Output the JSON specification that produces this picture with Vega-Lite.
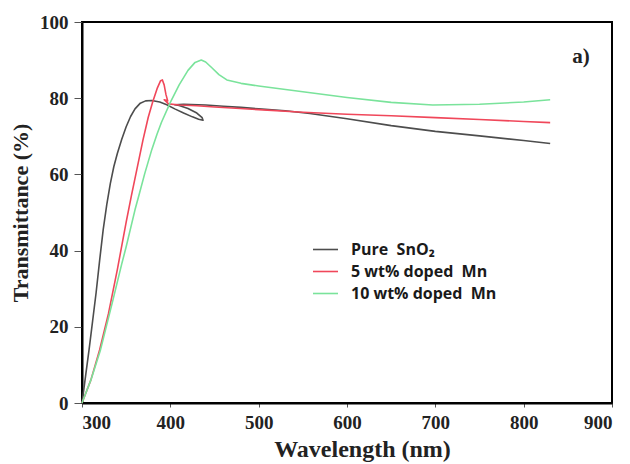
{
  "$schema": "https://vega.github.io/schema/vega-lite/v6.json",
  "width": 530,
  "height": 381,
  "autosize": "none",
  "padding": {"left": 82, "top": 22, "right": 18, "bottom": 61},
  "background": "white",
  "config": {
    "view": {"stroke": "black", "strokeWidth": 2},
    "axis": {
      "grid": false,
      "domainColor": "black",
      "domainWidth": 2,
      "tickColor": "#555",
      "labelFont": "Liberation Serif",
      "labelFontWeight": "bold",
      "labelFontSize": 19,
      "labelColor": "#222",
      "titleFont": "Liberation Serif",
      "titleFontWeight": "bold",
      "titleColor": "#222"
    }
  },
  "datasets": {
    "curves": [
      {"s": "Pure SnO₂", "i": 1, "w": 300, "t": 0},
      {"s": "Pure SnO₂", "i": 2, "w": 304, "t": 7},
      {"s": "Pure SnO₂", "i": 3, "w": 308, "t": 14},
      {"s": "Pure SnO₂", "i": 4, "w": 312, "t": 21.5},
      {"s": "Pure SnO₂", "i": 5, "w": 316, "t": 29},
      {"s": "Pure SnO₂", "i": 6, "w": 320, "t": 37.5},
      {"s": "Pure SnO₂", "i": 7, "w": 324, "t": 45.5},
      {"s": "Pure SnO₂", "i": 8, "w": 328, "t": 52},
      {"s": "Pure SnO₂", "i": 9, "w": 332, "t": 57.5},
      {"s": "Pure SnO₂", "i": 10, "w": 336, "t": 62},
      {"s": "Pure SnO₂", "i": 11, "w": 340, "t": 65.5},
      {"s": "Pure SnO₂", "i": 12, "w": 345, "t": 69.2},
      {"s": "Pure SnO₂", "i": 13, "w": 350, "t": 72.5},
      {"s": "Pure SnO₂", "i": 14, "w": 355, "t": 75.2},
      {"s": "Pure SnO₂", "i": 15, "w": 360, "t": 77.2},
      {"s": "Pure SnO₂", "i": 16, "w": 366, "t": 78.7},
      {"s": "Pure SnO₂", "i": 17, "w": 372, "t": 79.3},
      {"s": "Pure SnO₂", "i": 18, "w": 379, "t": 79.4},
      {"s": "Pure SnO₂", "i": 19, "w": 388, "t": 79},
      {"s": "Pure SnO₂", "i": 20, "w": 396, "t": 78.3},
      {"s": "Pure SnO₂", "i": 21, "w": 405, "t": 77.2},
      {"s": "Pure SnO₂", "i": 22, "w": 415, "t": 76.1},
      {"s": "Pure SnO₂", "i": 23, "w": 425, "t": 75.1},
      {"s": "Pure SnO₂", "i": 24, "w": 432, "t": 74.5},
      {"s": "Pure SnO₂", "i": 25, "w": 437, "t": 74.2},
      {"s": "Pure SnO₂", "i": 26, "w": 436, "t": 74.9},
      {"s": "Pure SnO₂", "i": 27, "w": 430, "t": 76.1},
      {"s": "Pure SnO₂", "i": 28, "w": 420, "t": 77.3},
      {"s": "Pure SnO₂", "i": 29, "w": 410, "t": 78.1},
      {"s": "Pure SnO₂", "i": 30, "w": 405, "t": 78.3},
      {"s": "Pure SnO₂", "i": 31, "w": 415, "t": 78.4},
      {"s": "Pure SnO₂", "i": 32, "w": 440, "t": 78.2},
      {"s": "Pure SnO₂", "i": 33, "w": 460, "t": 77.9},
      {"s": "Pure SnO₂", "i": 34, "w": 480, "t": 77.6},
      {"s": "Pure SnO₂", "i": 35, "w": 500, "t": 77.2},
      {"s": "Pure SnO₂", "i": 36, "w": 530, "t": 76.7},
      {"s": "Pure SnO₂", "i": 37, "w": 558, "t": 76},
      {"s": "Pure SnO₂", "i": 38, "w": 600, "t": 74.6},
      {"s": "Pure SnO₂", "i": 39, "w": 650, "t": 72.8},
      {"s": "Pure SnO₂", "i": 40, "w": 700, "t": 71.3},
      {"s": "Pure SnO₂", "i": 41, "w": 750, "t": 70.1},
      {"s": "Pure SnO₂", "i": 42, "w": 800, "t": 68.9},
      {"s": "Pure SnO₂", "i": 43, "w": 830, "t": 68.1},

      {"s": "5 wt% doped Mn", "i": 1, "w": 300, "t": 0},
      {"s": "5 wt% doped Mn", "i": 2, "w": 310, "t": 6},
      {"s": "5 wt% doped Mn", "i": 3, "w": 320, "t": 14},
      {"s": "5 wt% doped Mn", "i": 4, "w": 330, "t": 23.5},
      {"s": "5 wt% doped Mn", "i": 5, "w": 340, "t": 35},
      {"s": "5 wt% doped Mn", "i": 6, "w": 350, "t": 47.5},
      {"s": "5 wt% doped Mn", "i": 7, "w": 356, "t": 54.5},
      {"s": "5 wt% doped Mn", "i": 8, "w": 362, "t": 61.2},
      {"s": "5 wt% doped Mn", "i": 9, "w": 369, "t": 69},
      {"s": "5 wt% doped Mn", "i": 10, "w": 375, "t": 75},
      {"s": "5 wt% doped Mn", "i": 11, "w": 380, "t": 79},
      {"s": "5 wt% doped Mn", "i": 12, "w": 385, "t": 82.5},
      {"s": "5 wt% doped Mn", "i": 13, "w": 389, "t": 84.6},
      {"s": "5 wt% doped Mn", "i": 14, "w": 391, "t": 84.8},
      {"s": "5 wt% doped Mn", "i": 15, "w": 393, "t": 83.5},
      {"s": "5 wt% doped Mn", "i": 16, "w": 395, "t": 81},
      {"s": "5 wt% doped Mn", "i": 17, "w": 397, "t": 79.3},
      {"s": "5 wt% doped Mn", "i": 18, "w": 393, "t": 79.6},
      {"s": "5 wt% doped Mn", "i": 19, "w": 398, "t": 78.5},
      {"s": "5 wt% doped Mn", "i": 20, "w": 410, "t": 78.2},
      {"s": "5 wt% doped Mn", "i": 21, "w": 430, "t": 78},
      {"s": "5 wt% doped Mn", "i": 22, "w": 450, "t": 77.7},
      {"s": "5 wt% doped Mn", "i": 23, "w": 479, "t": 77.3},
      {"s": "5 wt% doped Mn", "i": 24, "w": 500, "t": 77},
      {"s": "5 wt% doped Mn", "i": 25, "w": 550, "t": 76.3},
      {"s": "5 wt% doped Mn", "i": 26, "w": 600, "t": 75.8},
      {"s": "5 wt% doped Mn", "i": 27, "w": 650, "t": 75.4},
      {"s": "5 wt% doped Mn", "i": 28, "w": 700, "t": 74.9},
      {"s": "5 wt% doped Mn", "i": 29, "w": 750, "t": 74.4},
      {"s": "5 wt% doped Mn", "i": 30, "w": 800, "t": 73.9},
      {"s": "5 wt% doped Mn", "i": 31, "w": 830, "t": 73.6},

      {"s": "10 wt% doped Mn", "i": 1, "w": 300, "t": 0},
      {"s": "10 wt% doped Mn", "i": 2, "w": 310, "t": 6},
      {"s": "10 wt% doped Mn", "i": 3, "w": 321, "t": 14},
      {"s": "10 wt% doped Mn", "i": 4, "w": 335, "t": 27},
      {"s": "10 wt% doped Mn", "i": 5, "w": 345, "t": 36.5},
      {"s": "10 wt% doped Mn", "i": 6, "w": 350, "t": 41},
      {"s": "10 wt% doped Mn", "i": 7, "w": 360, "t": 50.7},
      {"s": "10 wt% doped Mn", "i": 8, "w": 365, "t": 55},
      {"s": "10 wt% doped Mn", "i": 9, "w": 371, "t": 60.2},
      {"s": "10 wt% doped Mn", "i": 10, "w": 379, "t": 66.5},
      {"s": "10 wt% doped Mn", "i": 11, "w": 385, "t": 70.6},
      {"s": "10 wt% doped Mn", "i": 12, "w": 390, "t": 73.7},
      {"s": "10 wt% doped Mn", "i": 13, "w": 400, "t": 78.9},
      {"s": "10 wt% doped Mn", "i": 14, "w": 410, "t": 83.5},
      {"s": "10 wt% doped Mn", "i": 15, "w": 420, "t": 87.3},
      {"s": "10 wt% doped Mn", "i": 16, "w": 428, "t": 89.4},
      {"s": "10 wt% doped Mn", "i": 17, "w": 435, "t": 90},
      {"s": "10 wt% doped Mn", "i": 18, "w": 440, "t": 89.5},
      {"s": "10 wt% doped Mn", "i": 19, "w": 447, "t": 88},
      {"s": "10 wt% doped Mn", "i": 20, "w": 455, "t": 86.2},
      {"s": "10 wt% doped Mn", "i": 21, "w": 464, "t": 84.8},
      {"s": "10 wt% doped Mn", "i": 22, "w": 480, "t": 83.9},
      {"s": "10 wt% doped Mn", "i": 23, "w": 500, "t": 83.2},
      {"s": "10 wt% doped Mn", "i": 24, "w": 550, "t": 81.7},
      {"s": "10 wt% doped Mn", "i": 25, "w": 600, "t": 80.2},
      {"s": "10 wt% doped Mn", "i": 26, "w": 650, "t": 78.9},
      {"s": "10 wt% doped Mn", "i": 27, "w": 697, "t": 78.2},
      {"s": "10 wt% doped Mn", "i": 28, "w": 750, "t": 78.4},
      {"s": "10 wt% doped Mn", "i": 29, "w": 800, "t": 79},
      {"s": "10 wt% doped Mn", "i": 30, "w": 830, "t": 79.6}
    ],
    "label": [{"w": 865, "t": 90.8, "txt": "a)"}]
  },
  "layer": [
    {
      "data": {"name": "curves"},
      "mark": {"type": "line", "strokeWidth": 1.6, "interpolate": "linear", "strokeJoin": "round"},
      "encoding": {
        "x": {"field": "w", "type": "quantitative", "title": "Wavelength (nm)",
              "scale": {"domain": [300, 900], "nice": false},
              "axis": {"values": [300, 400, 500, 600, 700, 800, 900], "tickSize": 4, "labelPadding": 6,
                       "titleFontSize": 24, "titlePadding": 5, "titleX": 280}},
        "y": {"field": "t", "type": "quantitative", "title": "Transmittance (%)",
              "scale": {"domain": [0, 100], "nice": false},
              "axis": {"values": [0, 20, 40, 60, 80, 100], "tickSize": 8, "labelPadding": 6,
                       "titleFontSize": 22, "titlePadding": 7}},
        "order": {"field": "i", "type": "quantitative"},
        "color": {"field": "s", "type": "nominal",
                  "scale": {"domain": ["Pure SnO₂", "5 wt% doped Mn", "10 wt% doped Mn"],
                            "range": ["#4d4d4d", "#f0475a", "#7ae39b"]},
                  "legend": {"title": null, "orient": "none", "legendX": 230, "legendY": 214,
                             "symbolType": "stroke", "symbolSize": 625, "symbolStrokeWidth": 1.6,
                             "labelFont": "Open Sans", "labelFontWeight": "bold", "labelFontSize": 16,
                             "labelColor": "#1a1a1a", "labelOffset": 12, "rowPadding": 0, "padding": 0,
                             "labelExpr": "replace(replace(datum.label, 'Pure ', 'Pure\u00a0 '), 'doped ', 'doped\u00a0 ')"}}
      }
    },
    {
      "data": {"name": "label"},
      "mark": {"type": "text", "font": "Liberation Serif", "fontWeight": "bold", "fontSize": 21, "color": "#222"},
      "encoding": {
        "x": {"field": "w", "type": "quantitative"},
        "y": {"field": "t", "type": "quantitative"},
        "text": {"field": "txt"}
      }
    }
  ]
}
